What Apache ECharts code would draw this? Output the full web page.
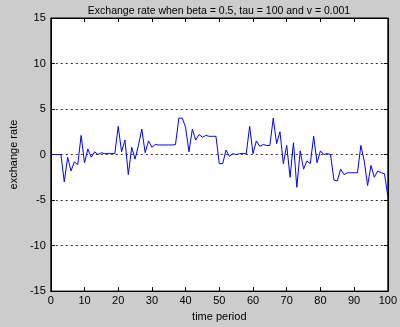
<!DOCTYPE html>
<html>
<head>
<meta charset="utf-8">
<script src="https://cdn.jsdelivr.net/npm/echarts@6/dist/echarts.min.js"></script>
<style>
  html, body { margin: 0; padding: 0; background: #cccccc; }
  #main { width: 400px; height: 327px; }
</style>
</head>
<body>
<div id="main"></div>
<script>
  // exchange rate, one value per time period 0..100
  var rateValues = [
    0, 0, 0, 0, -3.0, -0.3, -1.8, -0.8, -1.1, 2.1,
    -0.9, 0.6, -0.3, 0.3, 0.0, 0.2, 0.1, 0.1, 0.1, 0.1,
    3.1, 0.3, 1.6, -2.2, 0.8, -0.5, 1.0, 2.8, 0.2, 1.5,
    0.8, 1.1, 1.05, 1.05, 1.05, 1.05, 1.05, 1.1, 4.0, 4.0,
    3.0, 0.3, 2.8, 1.6, 2.2, 1.9, 2.1, 2.0, 2.0, 2.0,
    -1.0, -1.0, 0.5, -0.2, 0.1, 0.0, 0.1, 0.1, 0.1, 3.1,
    0.1, 1.5, 0.9, 1.1, 1.0, 1.0, 4.0, 1.2, 2.5, -1.0,
    1.0, -2.5, 1.3, -3.6, 0.4, -1.6, -0.7, -1.0, 2.0, -0.9,
    0.4, 0.0, 0.1, 0.0, -2.8, -2.9, -1.6, -2.2, -2.0, -2.0,
    -2.0, -2.0, 1.0, -0.7, -3.4, -1.2, -2.5, -1.8, -2.0, -2.1,
    -4.6
  ];
  var xTicks = [0, 10, 20, 30, 40, 50, 60, 70, 80, 90, 100];
  var yTicks = [-15, -10, -5, 0, 5, 10, 15];

  var myChart = echarts.init(document.getElementById('main'));

  var seriesData = [];
  rateValues.forEach(function (v, i) {
    seriesData.push([i, v]);
  });

  var fontFam = 'Liberation Sans, Arial, sans-serif';
  var tickStyle = { show: true, inside: true, length: 4, lineStyle: { color: '#000', width: 1 } };

  var option = {
    backgroundColor: '#cccccc',
    animation: false,
    title: {
      text: 'Exchange rate when beta = 0.5, tau = 100 and v = 0.001',
      left: 214,
      textAlign: 'center',
      top: 1,
      textStyle: { fontFamily: fontFam, fontSize: 10.5, fontWeight: 'normal', color: '#000' }
    },
    grid: {
      left: 39,
      right: 10,
      top: 18,
      bottom: 31,
      show: true,
      backgroundColor: '#ffffff',
      borderColor: '#000',
      borderWidth: 1
    },
    xAxis: [
      {
        type: 'value',
        min: xTicks[0],
        max: xTicks[xTicks.length - 1],
        interval: 10,
        name: 'time period',
        nameLocation: 'middle',
        nameGap: 17,
        nameTextStyle: { fontFamily: fontFam, fontSize: 11, color: '#000' },
        axisLine: { show: true, onZero: false, lineStyle: { color: '#000' } },
        axisTick: tickStyle,
        axisLabel: { fontFamily: fontFam, fontSize: 11, color: '#000', margin: 4 },
        splitLine: { show: false }
      },
      {
        type: 'value',
        position: 'top',
        min: xTicks[0],
        max: xTicks[xTicks.length - 1],
        interval: 10,
        axisLine: { show: true, onZero: false, lineStyle: { color: '#000' } },
        axisTick: tickStyle,
        axisLabel: { show: false },
        splitLine: { show: false }
      }
    ],
    yAxis: [
      {
        type: 'value',
        min: yTicks[0],
        max: yTicks[yTicks.length - 1],
        interval: 5,
        name: 'exchange rate',
        nameLocation: 'middle',
        nameGap: 24,
        nameTextStyle: { fontFamily: fontFam, fontSize: 11, color: '#000' },
        axisLine: { show: true, onZero: false, lineStyle: { color: '#000' } },
        axisTick: tickStyle,
        axisLabel: { fontFamily: fontFam, fontSize: 11, color: '#000', margin: 5 },
        splitLine: { show: true, lineStyle: { color: '#333', type: [2, 3], width: 1 } }
      },
      {
        type: 'value',
        position: 'right',
        min: yTicks[0],
        max: yTicks[yTicks.length - 1],
        interval: 5,
        axisLine: { show: true, onZero: false, lineStyle: { color: '#000' } },
        axisTick: tickStyle,
        axisLabel: { show: false },
        splitLine: { show: false }
      }
    ],
    series: [
      {
        type: 'line',
        data: seriesData,
        symbol: 'none',
        lineStyle: { color: '#0000ff', width: 1 }
      }
    ]
  };
  myChart.setOption(option);
</script>
</body>
</html>
